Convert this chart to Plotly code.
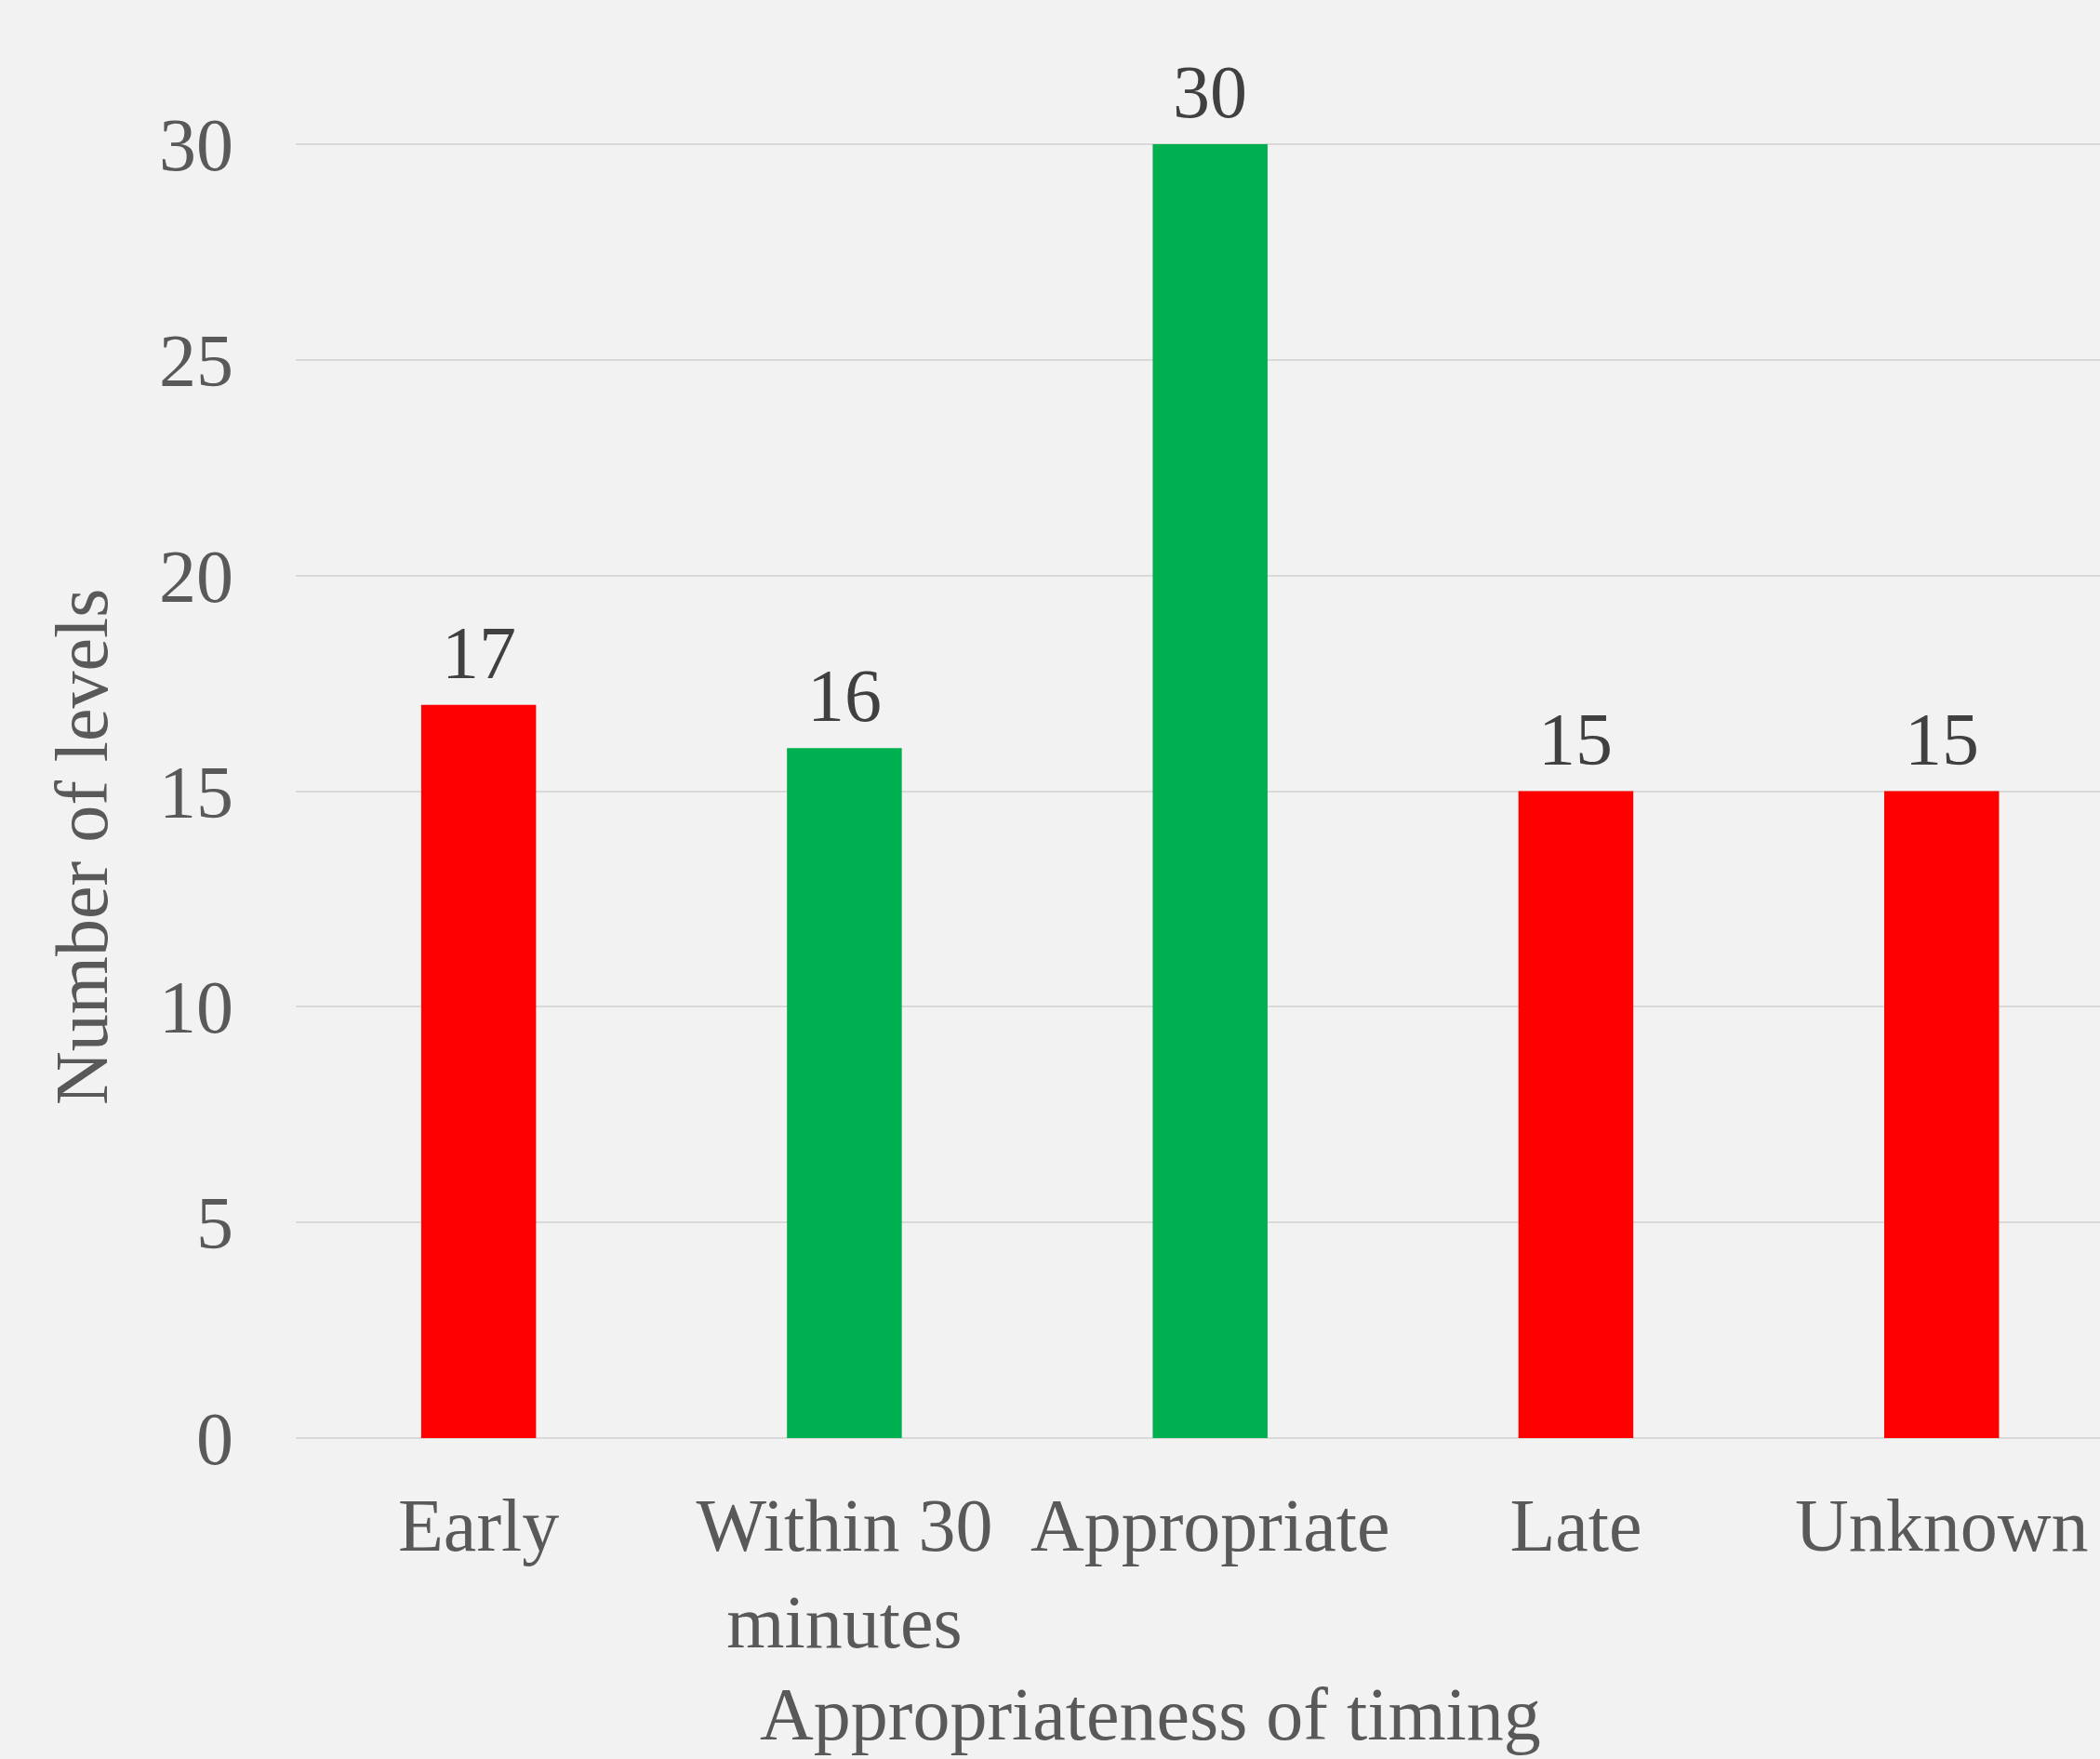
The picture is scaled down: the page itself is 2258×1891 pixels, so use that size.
import plotly.graph_objects as go

# Counts of levels by appropriateness of timing
categories = ["Early", "Within 30<br>minutes", "Appropriate", "Late", "Unknown"]
counts = [17, 16, 30, 15, 15]
bar_colors = ["#FF0000", "#00B050", "#00B050", "#FF0000", "#FF0000"]
y_ticks = [0, 5, 10, 15, 20, 25, 30]

FONT = "Liberation Serif"
W, H = 2258, 1891
ML, MB = 318, 345

fig = go.Figure(
    go.Bar(
        x=categories,
        y=counts,
        marker=dict(color=bar_colors, line=dict(width=0)),
        width=0.314,
        hoverinfo="skip",
    )
)

# Value labels above each bar
value_labels = [
    dict(
        x=cat, y=val, xref="x", yref="y",
        text=str(val), showarrow=False,
        xanchor="center", yanchor="bottom", yshift=10,
        font=dict(family=FONT, size=80, color="#404040"),
    )
    for cat, val in zip(categories, counts)
]

fig.update_layout(
    width=W,
    height=H,
    margin=dict(l=ML, r=0, t=0, b=MB, pad=0),
    paper_bgcolor="#F2F2F2",
    plot_bgcolor="#F2F2F2",
    showlegend=False,
    font=dict(family=FONT, size=80, color="#595959"),
    xaxis=dict(
        type="category",
        range=[-0.5, 4.433],
        showgrid=False,
        showline=False,
        zeroline=False,
        ticks="",
        tickfont=dict(family=FONT, size=80, color="#595959"),
        ticklabelstandoff=40,
    ),
    yaxis=dict(
        range=[0, 33.343],
        tickvals=y_ticks,
        ticktext=[str(v) for v in y_ticks],
        showgrid=True,
        gridcolor="#D9D9D9",
        gridwidth=2,
        zeroline=True,
        zerolinecolor="#D9D9D9",
        zerolinewidth=2,
        showline=False,
        ticks="",
        tickfont=dict(family=FONT, size=80, color="#595959"),
        ticklabelstandoff=66,
    ),
    annotations=value_labels + [
        dict(
            text="Number of levels",
            xref="paper", yref="paper",
            x=(88 - ML) / (W - ML), y=(H - MB - 911) / (H - MB),
            xanchor="center", yanchor="middle",
            textangle=-90, showarrow=False,
            font=dict(family=FONT, size=80, color="#595959"),
        ),
        dict(
            text="Appropriateness of timing",
            xref="paper", yref="paper",
            x=(1237 - ML) / (W - ML), y=(H - MB - 1843) / (H - MB),
            xanchor="center", yanchor="middle",
            showarrow=False,
            font=dict(family=FONT, size=80, color="#595959"),
        ),
    ],
)

fig.write_html("out.html")
